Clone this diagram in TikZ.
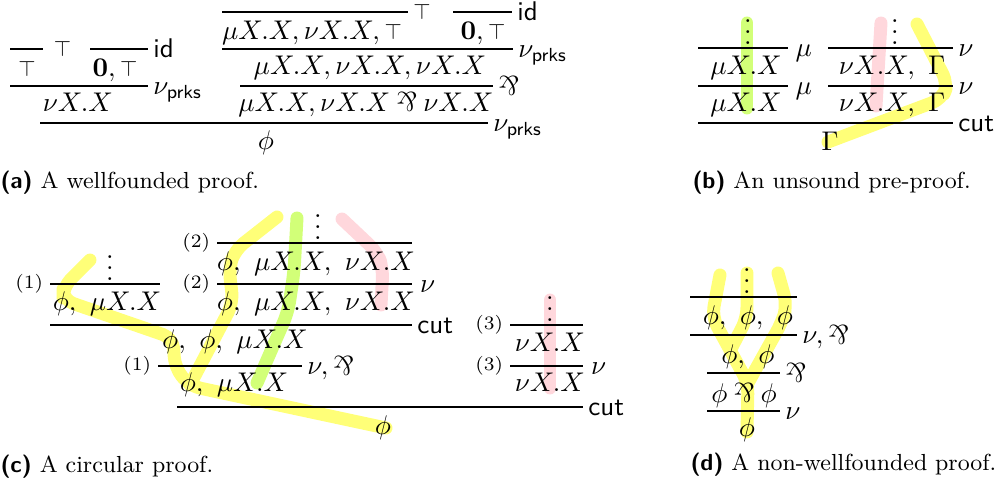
\documentclass[tikz,border=0pt]{standalone}
\usepackage{amsmath, amssymb}
\usepackage{tikz}
\usetikzlibrary{calc}
\definecolor{hlyellow}{RGB}{255, 255, 120}
\definecolor{hlgreen}{RGB}{210, 255, 120}
\definecolor{hlpink}{RGB}{255, 215, 220}
\newcommand{\parrop}{\mathbin{\rotatebox[origin=c]{180}{$\&$}}}
\newcommand{\topsym}{\mathord{\scalebox{0.82}{$\top$}}}

\begin{document}
\begin{tikzpicture}[x=0.37pt, y=-0.37pt,
  fml/.style={inner sep=0pt, anchor=base},
  rlab/.style={inner sep=0pt, anchor=base west, xshift=1.8pt, yshift=-3.3pt},
  llab/.style={inner sep=0pt, anchor=east, xshift=-2.4pt, font=\scriptsize},
  hl/.style={line width=4.8pt, line cap=round, line join=round, rounded corners=4pt},
  subcap/.style={inner sep=0pt, anchor=west, font=\fontsize{8.6}{10}\selectfont}]
  \useasboundingbox (0,0) rectangle (997,491);

  % Highlights (b)
  \draw[hl, hlgreen] (747,23) -- (747,108);
  \draw[hl, hlpink] (881,23) -- (876,106);
  \draw[hl, hlyellow] (917,24) -- (948,84) -- (942,99) -- (828,142);

  % Highlights (c)
  \draw[hl, hlyellow] (90,260) -- (63,287) -- (63,300) -- (173,338) -- (175,368) -- (190,386) -- (386,428);
  \draw[hl, hlyellow] (277,217) -- (235,250) -- (229,268) -- (233,303) -- (190,385);
  \draw[hl, hlgreen] (297,218) -- (294,272) -- (288,312) -- (257,383);
  \draw[hl, hlpink] (342,219) -- (377,252) -- (383,268) -- (381,305);
  \draw[hl, hlpink] (550,300) -- (550,388);

  % Highlights (d)
  \draw[hl, hlyellow] (720,275) -- (712,317) -- (748,383) -- (747,432);
  \draw[hl, hlyellow] (747,273) -- (747,318) -- (731,349);
  \draw[hl, hlyellow] (778,273) -- (787,305) -- (782,322) -- (748,383);

  % (a) left branch
  \draw (10,49) -- (43,49) node[rlab, anchor=west, yshift=3.3pt, xshift=2pt] (aTopLab) {$\topsym$};
  \node[fml] (aTop) at (27,76) {$\topsym$};
  \draw (90,49) -- (148,49) node[rlab] (aIdLab) {\textsf{id}};
  \node[fml] (aZero) at (115,76) {$\mathbf{0}, \topsym$};
  \draw (10,86) -- (148,86) node[rlab] (aNuLab) {$\nu_{\mathsf{prks}}$};
  \node[fml] (aNu) at (78,111) {$\nu X.X$};

  % (a) right branch
  \draw (222,12) -- (408,12) node[rlab, anchor=west, yshift=3.3pt] (bTopLab) {$\topsym$};
  \node[fml] (aMuNuTop) at (312,39) {$\mu X.X, \nu X.X, \topsym$};
  \draw (453,12) -- (512,12) node[rlab] (bIdLab) {\textsf{id}};
  \node[fml] (aZeroR) at (483,39) {$\mathbf{0}, \topsym$};
  \draw (222,49) -- (513,49) node[rlab] (bNuLab) {$\nu_{\mathsf{prks}}$};
  \node[fml] (aMuNuNu) at (370,74) {$\mu X.X, \nu X.X, \nu X.X$};
  \draw (240,86) -- (493,86) node[rlab] (aParLab) {$\parrop$};
  \node[fml] (aMuPar) at (366,111) {$\mu X.X, \nu X.X \parrop \nu X.X$};
  \draw (40,123) -- (488,123) node[rlab] (aRootLab) {$\nu_{\mathsf{prks}}$};
  \node[fml] (aRoot) at (266,149) {$\phi$};

  \node[subcap] (capA) at (0,183) {\textsf{\bfseries (a)} A wellfounded proof.};

  % (b) unsound pre-proof
  \node[fml] (bDotsL) at (748,44) {$\vdots$};
  \draw (698,48) -- (788,48) node[rlab, xshift=0.8pt] (bMuLab1) {$\mu$};
  \node[fml] (bMu1) at (746,74) {$\mu X.X$};
  \draw (698,86) -- (788,86) node[rlab, xshift=0.8pt] (bMuLab2) {$\mu$};
  \node[fml] (bMu2) at (746,111) {$\mu X.X$};
  \node[fml] (bDotsR) at (895,44) {$\vdots$};
  \draw (828,48) -- (953,48) node[rlab] (bNuLab1) {$\nu$};
  \node[fml] (bNu1) at (892,74) {$\nu X.X,\ \Gamma$};
  \draw (828,86) -- (953,86) node[rlab] (bNuLab2) {$\nu$};
  \node[fml] (bNu2) at (892,111) {$\nu X.X,\ \Gamma$};
  \draw (698,123) -- (953,123) node[rlab] (bCutLab) {\textsf{cut}};
  \node[fml] (bGamma) at (830,150) {$\Gamma$};

  \node[subcap] (capB) at (692,183) {\textsf{\bfseries (b)} An unsound pre-proof.};

  % (c) circular proof
  \node[fml] (cDots1) at (110,280) {$\vdots$};
  \draw (50,284) node[llab] (cOne1) {(1)} -- (160,284);
  \node[fml] (cPhiMu) at (107,310) {$\phi,\ \mu X.X$};
  \node[fml] (cDots2) at (318,239) {$\vdots$};
  \draw (217,243) node[llab] (cTwo1) {(2)} -- (412,243);
  \node[fml] (cTri1) at (316,270) {$\phi,\ \mu X.X,\ \nu X.X$};
  \draw (217,284) node[llab] (cTwo2) {(2)} -- (412,284) node[rlab, xshift=1pt] (cNuLab) {$\nu$};
  \node[fml] (cTri2) at (316,310) {$\phi,\ \mu X.X,\ \nu X.X$};
  \draw (50,325) -- (412,325) node[rlab] (cCutLab1) {\textsf{cut}};
  \node[fml] (cPhiPhi) at (235,348) {$\phi,\ \phi,\ \mu X.X$};
  \draw (158,366) node[llab] (cOne2) {(1)} -- (302,366) node[rlab] (cNuParLab) {$\nu, \parrop$};
  \node[fml] (cPhiMu2) at (234,391) {$\phi,\ \mu X.X$};
  \node[fml] (cDots3) at (550,321) {$\vdots$};
  \draw (510,325) node[llab] (cThree1) {(3)} -- (583,325);
  \node[fml] (cNu1) at (550,351) {$\nu X.X$};
  \draw (510,366) node[llab] (cThree2) {(3)} -- (583,366) node[rlab, xshift=1pt] (cNuLab2) {$\nu$};
  \node[fml] (cNu2) at (550,391) {$\nu X.X$};
  \draw (177,407) -- (583,407) node[rlab] (cCutLab2) {\textsf{cut}};
  \node[fml] (cRoot) at (383,434) {$\phi$};

  \node[subcap] (capC) at (0,467) {\textsf{\bfseries (c)} A circular proof.};

  % (d) non-wellfounded proof
  \node[fml] (dDots) at (747,293) {$\vdots$};
  \draw (690,297) -- (797,297);
  \node[fml] (dThree) at (748,324) {$\phi,\ \phi,\ \phi$};
  \draw (690,335) -- (797,335) node[rlab] (dNuParLab) {$\nu, \parrop$};
  \node[fml] (dTwo) at (748,363) {$\phi,\ \phi$};
  \draw (707,373) -- (780,373) node[rlab] (dParLab) {$\parrop$};
  \node[fml] (dPar) at (744,402) {$\phi \parrop \phi$};
  \draw (707,411) -- (780,411) node[rlab] (dNuLab) {$\nu$};
  \node[fml] (dRoot) at (747,436) {$\phi$};

  \node[subcap] (capD) at (690,465) {\textsf{\bfseries (d)} A non-wellfounded proof.};
\end{tikzpicture}
\end{document}
